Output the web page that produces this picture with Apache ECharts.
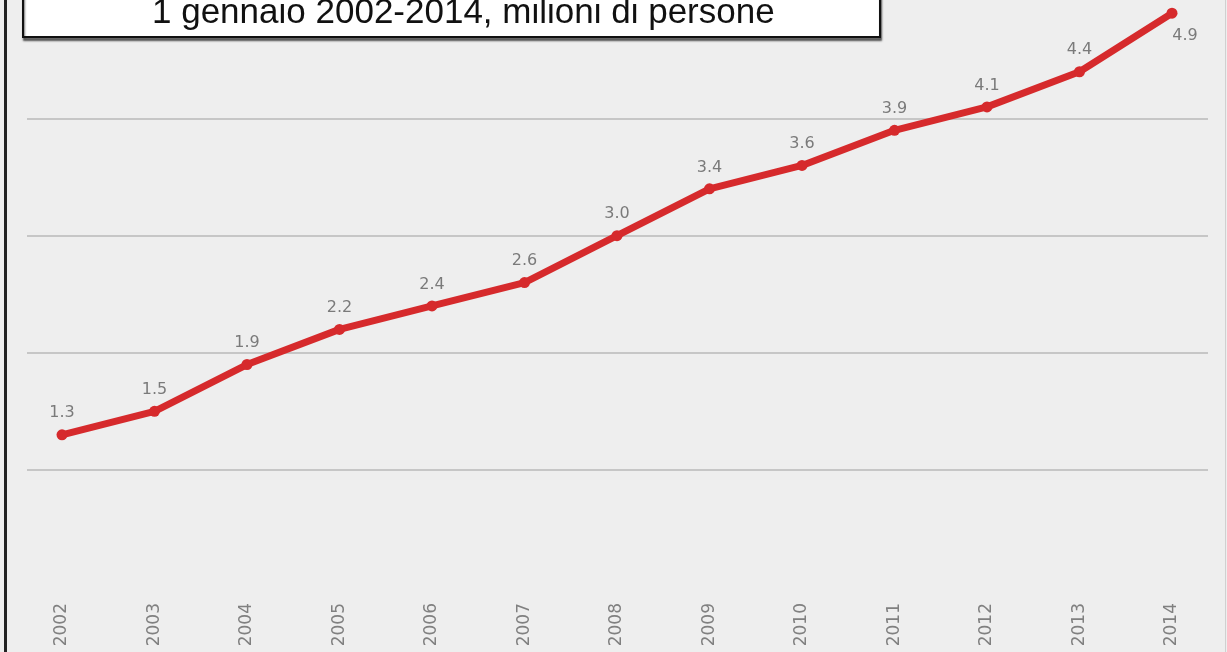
<!DOCTYPE html>
<html>
<head>
<meta charset="utf-8">
<title>Stranieri residenti in Italia</title>
<script src="https://cdn.jsdelivr.net/npm/echarts@6/dist/echarts.min.js"></script>
<style>
  html, body { margin: 0; padding: 0; background: #f4f4f4; }
  #chart { width: 1227px; height: 652px; }
</style>
</head>
<body>
<div id="chart"></div>
<script>
// Foreign residents in Italy at 1 January, millions of people
const years = ['2002', '2003', '2004', '2005', '2006', '2007', '2008',
               '2009', '2010', '2011', '2012', '2013', '2014'];
const residents = [1.3, 1.5, 1.9, 2.2, 2.4, 2.6, 3.0, 3.4, 3.6, 3.9, 4.1, 4.4, 4.9];
const titleText = '1 gennaio 2002-2014, milioni di persone';

const yMin = 0, yMax = 5, yStep = 1;
const gridColor = '#c6c6c6';
// light lines at 1..4 only; the 0 and 5 lines stay invisible
const splitColors = ['rgba(0,0,0,0)', gridColor, gridColor, gridColor, gridColor, 'rgba(0,0,0,0)'];

const seriesData = residents.map((v, i) => {
  const last = i === residents.length - 1;
  return last
    ? { value: v, label: { position: 'bottom', offset: [13, 1] } }
    : v;
});

const chart = echarts.init(document.getElementById('chart'));
chart.setOption({
  backgroundColor: '#eeeeee',
  animation: false,
  title: {
    text: titleText,
    left: 23,
    top: -14,
    padding: [10, 106, 6, 129],
    backgroundColor: '#ffffff',
    borderColor: '#111111',
    borderWidth: 2,
    shadowColor: 'rgba(0,0,0,0.55)',
    shadowBlur: 2,
    shadowOffsetX: 1,
    shadowOffsetY: 3,
    textStyle: {
      fontFamily: 'Liberation Sans, Arial, sans-serif',
      fontSize: 35,
      lineHeight: 35,
      fontWeight: 'normal',
      color: '#111111'
    },
    z: 10
  },
  graphic: [
    { type: 'rect', left: 4, top: 0, shape: { width: 3, height: 652 }, style: { fill: '#222222' }, silent: true },
    { type: 'rect', right: 1, top: 0, shape: { width: 1, height: 652 }, style: { fill: '#d0d0d0' }, silent: true }
  ],
  grid: [
    { left: 15.75, right: 8.75, top: 1.5, bottom: 65, containLabel: false },
    { left: 27, right: 19, top: 1.5, bottom: 65, containLabel: false }
  ],
  xAxis: [
    {
      type: 'category',
      gridIndex: 0,
      data: years,
      boundaryGap: true,
      axisLine: { show: false },
      axisTick: { show: false },
      axisLabel: {
        rotate: 90,
        margin: 16,
        fontFamily: 'DejaVu Sans',
        fontSize: 17,
        color: '#808080'
      },
      splitLine: { show: false }
    },
    {
      type: 'value',
      gridIndex: 1,
      min: 0,
      max: 1,
      show: false
    }
  ],
  yAxis: [
    {
      type: 'value',
      gridIndex: 0,
      min: yMin,
      max: yMax,
      interval: yStep,
      show: false
    },
    {
      type: 'value',
      gridIndex: 1,
      min: yMin,
      max: yMax,
      interval: yStep,
      axisLine: { show: false },
      axisTick: { show: false },
      axisLabel: { show: false },
      splitLine: { show: true, lineStyle: { color: splitColors, width: 2 } }
    }
  ],
  series: [
    {
      type: 'line',
      xAxisIndex: 0,
      yAxisIndex: 0,
      data: seriesData,
      clip: false,
      symbol: 'circle',
      symbolSize: 11,
      lineStyle: { color: '#d62a2c', width: 7 },
      itemStyle: { color: '#d62a2c' },
      label: {
        show: true,
        position: 'top',
        distance: 8,
        formatter: p => p.value.toFixed(1),
        fontFamily: 'DejaVu Sans',
        fontSize: 16,
        color: '#7a7a7a'
      },
      z: 5
    }
  ]
});
</script>
</body>
</html>
